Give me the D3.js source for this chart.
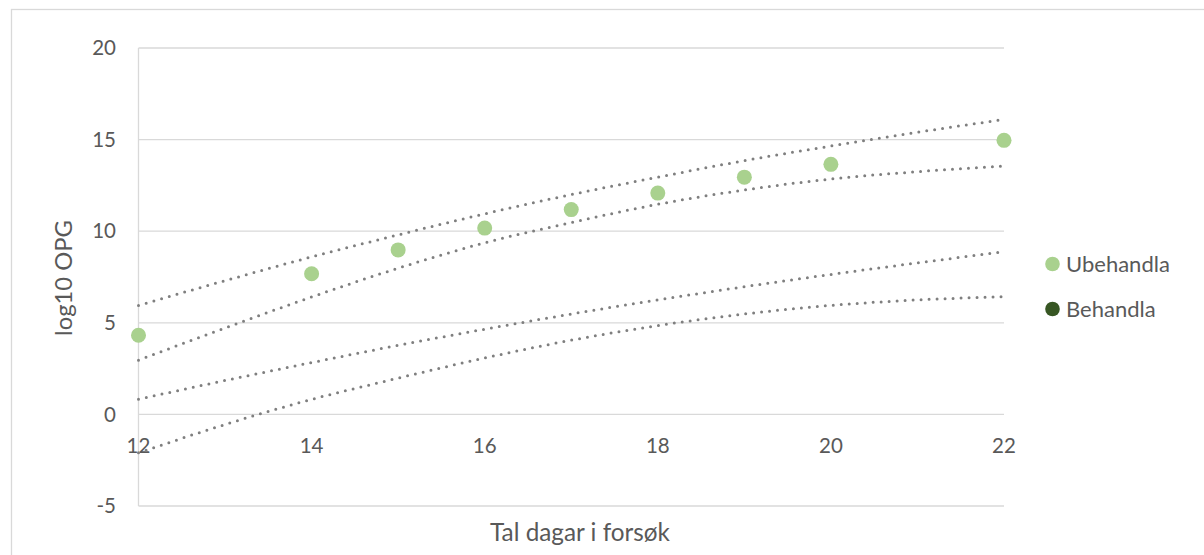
<!DOCTYPE html>
<html>
<head>
<meta charset="utf-8">
<script src="https://cdn.jsdelivr.net/npm/d3@7"></script>
<style>
  html, body { margin: 0; padding: 0; background: #fff; }
  svg { display: block; }
</style>
</head>
<body>
<svg id="chart" width="1204" height="555"></svg>
<script>
// ---- data ----
const days = [12, 13, 14, 15, 16, 17, 18, 19, 20, 21, 22];
const ubehandlaDays = [12, 14, 15, 16, 17, 18, 19, 20, 22];
const ubehandla = [4.32, 7.68, 8.98, 10.17, 11.18, 12.08, 12.95, 13.65, 14.96];
const behandlaDays = [];
const behandla = [];
const trendA = [5.95, 7.3, 8.6, 9.8, 10.95, 12.0, 12.95, 13.85, 14.65, 15.4, 16.1];
const trendB = [2.96, 4.72, 6.41, 7.98, 9.37, 10.47, 11.47, 12.25, 12.85, 13.25, 13.56];
const trendC = [0.83, 1.85, 2.83, 3.77, 4.65, 5.48, 6.25, 6.97, 7.64, 8.27, 8.88];
const trendD = [-2.1, -0.55, 0.82, 1.98, 3.08, 4.05, 4.85, 5.48, 5.95, 6.25, 6.42];
const xTicks = [12, 14, 16, 18, 20, 22];
const yTicks = [-5, 0, 5, 10, 15, 20];
const seriesNames = ["Ubehandla", "Behandla"];
const seriesColors = ["#a9d18e", "#375623"];

// ---- layout ----
const svg = d3.select("#chart");
const font = "Lato, 'Open Sans', sans-serif";
const textColor = "#595959";
const gridColor = "#d9d9d9";

const x = d3.scaleLinear().domain([12, 22]).range([138.5, 1004]);
const y = d3.scaleLinear().domain([-5, 20]).range([506, 48]);

// chart border
svg.append("rect")
  .attr("x", 11.5).attr("y", 9.5)
  .attr("width", 1204).attr("height", 560)
  .attr("fill", "none").attr("stroke", gridColor).attr("stroke-width", 1.3);

// horizontal gridlines
svg.append("g").selectAll("line").data(yTicks).join("line")
  .attr("x1", x(12)).attr("x2", x(22))
  .attr("y1", d => y(d)).attr("y2", d => y(d))
  .attr("stroke", gridColor).attr("stroke-width", 1.3);

// vertical axis line
svg.append("line")
  .attr("x1", x(12)).attr("x2", x(12))
  .attr("y1", y(20)).attr("y2", y(-5))
  .attr("stroke", gridColor).attr("stroke-width", 1.3);

// y tick labels
svg.append("g").selectAll("text").data(yTicks).join("text")
  .attr("x", 116).attr("y", d => y(d))
  .attr("dy", "0.35em")
  .attr("text-anchor", "end")
  .attr("font-family", font).attr("font-size", 20.5)
  .attr("fill", textColor)
  .text(d => d);

// x tick labels (below the zero line)
svg.append("g").selectAll("text").data(xTicks).join("text")
  .attr("x", d => x(d)).attr("y", y(0) + 39)
  .attr("text-anchor", "middle")
  .attr("font-family", font).attr("font-size", 20.5)
  .attr("fill", textColor)
  .text(d => d);

// axis titles
svg.append("text")
  .attr("x", 580).attr("y", 541)
  .attr("text-anchor", "middle")
  .attr("font-family", font).attr("font-size", 24.3)
  .attr("fill", textColor)
  .text("Tal dagar i forsøk");

svg.append("text")
  .attr("transform", "translate(71.5,278) rotate(-90)")
  .attr("text-anchor", "middle")
  .attr("font-family", font).attr("font-size", 23.8)
  .attr("fill", textColor)
  .text("log10 OPG");

// trend lines (dotted)
const line = d3.line().x((d, i) => x(days[i])).y(d => y(d)).curve(d3.curveMonotoneX);
svg.append("g").selectAll("path").data([trendA, trendB, trendC, trendD]).join("path")
  .attr("d", line)
  .attr("fill", "none")
  .attr("stroke", "#7f7f7f")
  .attr("stroke-width", 3)
  .attr("stroke-linecap", "round")
  .attr("stroke-dasharray", "0 8");

// points
svg.append("g").selectAll("circle").data(ubehandla).join("circle")
  .attr("cx", (d, i) => x(ubehandlaDays[i]))
  .attr("cy", d => y(d))
  .attr("r", 7.5)
  .attr("fill", seriesColors[0]);

svg.append("g").selectAll("circle").data(behandla).join("circle")
  .attr("cx", (d, i) => x(behandlaDays[i]))
  .attr("cy", d => y(d))
  .attr("r", 7.5)
  .attr("fill", seriesColors[1]);

// legend
const legend = svg.append("g").selectAll("g").data(seriesNames).join("g")
  .attr("transform", (d, i) => `translate(1052.5,${264 + i * 45})`);
legend.append("circle").attr("r", 7.3).attr("fill", (d, i) => seriesColors[i]);
legend.append("text")
  .attr("x", 13.5).attr("dy", "0.35em")
  .attr("font-family", font).attr("font-size", 22)
  .attr("fill", textColor)
  .text(d => d);
</script>
</body>
</html>
